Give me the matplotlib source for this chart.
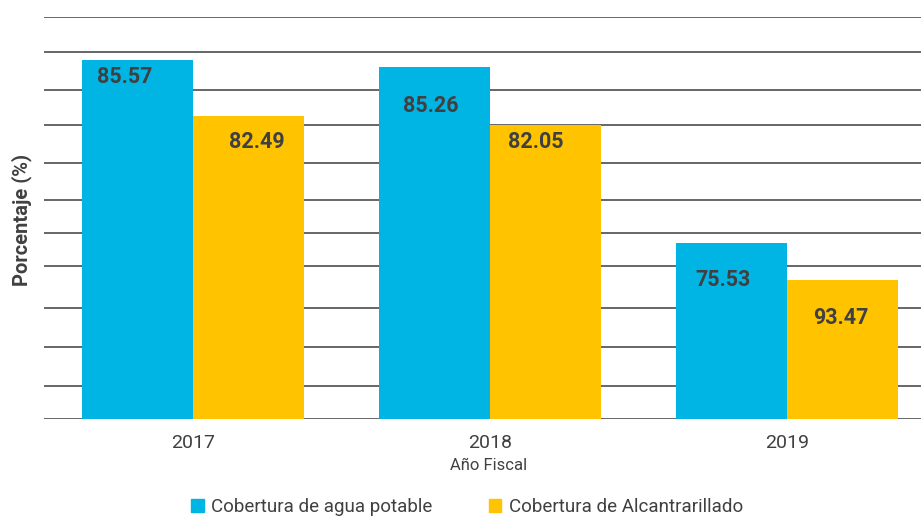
import matplotlib
matplotlib.use("Agg")
import matplotlib.pyplot as plt
import numpy as np
from matplotlib.patches import Patch

plt.rcParams['font.family'] = ['Roboto', 'DejaVu Sans']

# ---- data ----
years = ["2017", "2018", "2019"]
series_names = ["Cobertura de agua potable", "Cobertura de Alcantrarillado"]
# bar heights as drawn in the picture (axis units 0-110)
agua_heights = [98.2, 96.4, 48.1]
alcant_heights = [82.9, 80.4, 37.9]
# printed value labels
agua_labels = ["85.57", "85.26", "75.53"]
alcant_labels = ["82.49", "82.05", "93.47"]
# horizontal grid levels as drawn
grid_levels = [0, 8.8, 19.6, 30.3, 41.8, 50.8, 60.0, 70.0, 80.4, 90.1, 100.4, 110]

blue = "#00B4E4"
yellow = "#FFC300"
txt = "#404040"

W, H = 921, 516
fig = plt.figure(figsize=(W/100, H/100), dpi=100)
ax_left, ax_right, ax_bot, ax_top = 44, 921, 418.5, 17
ax = fig.add_axes([ax_left/W, (H-ax_bot)/H, (ax_right-ax_left)/W, (ax_bot-ax_top)/H])

x = np.arange(len(years))
w = 0.375
b1 = ax.bar(x - w/2, agua_heights, w, color=blue, zorder=3, linewidth=0)
b2 = ax.bar(x + w/2, alcant_heights, w, color=yellow, zorder=3, linewidth=0)

ax.set_ylim(0, 110)
ax.set_xlim(-0.5017, 2.451)
for g in grid_levels:
    ax.axhline(g, color="#666666", linewidth=1.4, zorder=1)

for s in ax.spines.values():
    s.set_visible(False)
ax.set_yticks([])
ax.set_xticks(x)
ax.set_xticklabels(years, fontsize=14, color=txt)
ax.tick_params(axis='x', length=0, pad=11)

# label offsets in pixels (dx, dy) relative to bar top centre
off_agua = [(-12.5, -17), (-3.5, -39), (-8, -37)]
off_alc = [(8, -26), (-10, -17), (-2, -38)]
for bars, labels, offs in [(b1, agua_labels, off_agua), (b2, alcant_labels, off_alc)]:
    for r, lab, (dx, dy) in zip(bars, labels, offs):
        ax.annotate(lab, (r.get_x() + r.get_width()/2, r.get_height()),
                    xytext=(dx*0.72, dy*0.72), textcoords="offset points",
                    ha="center", va="center", fontsize=15.5, fontweight="bold",
                    color=txt, zorder=4)

fig.text(22/W, (H-220)/H, "Porcentaje (%)", rotation=90, ha="center", va="center",
         fontsize=14.5, fontweight="bold", color=txt)
fig.text(488.5/W, (H-466)/H, "Año Fiscal", ha="center", va="center",
         fontsize=12, color=txt)

handles = [Patch(color=blue), Patch(color=yellow)]
fig.legend(handles, series_names, loc="center", bbox_to_anchor=(467/W, (H-507)/H),
           ncol=2, frameon=False, fontsize=13.5, labelcolor=txt,
           handlelength=0.68, handleheight=0.68, handletextpad=0.4,
           columnspacing=3.0, borderpad=0, borderaxespad=0)

fig.savefig("out.png", dpi=100)
